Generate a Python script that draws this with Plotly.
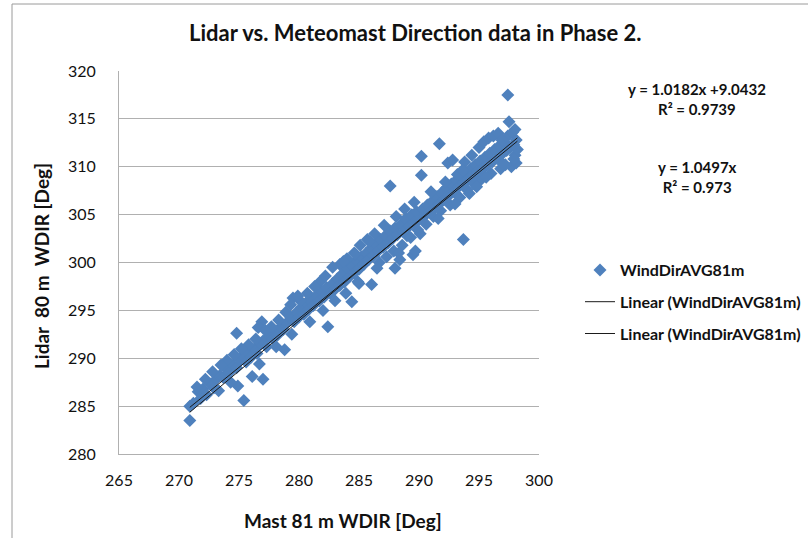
import plotly.graph_objects as go

# ---- data ----
mast_x = [
    270.9, 270.9, 271.2, 271.6, 271.8, 272.0, 272.3, 272.6, 272.9, 273.1, 273.4, 273.7, 273.9, 274.2, 274.5,
    274.8, 274.8, 274.9, 275.1, 275.4, 275.3, 275.6, 275.8, 276.0, 276.1, 276.3, 276.5, 276.8, 276.9, 276.6,
    277.0, 277.0, 277.3, 277.5, 277.8, 278.0, 278.2, 278.5, 278.8, 278.7, 279.0, 279.3, 279.5, 279.6, 279.8,
    280.0, 280.2, 280.4, 280.6, 280.8, 281.0, 281.2, 281.5, 281.75, 281.7, 281.9, 282.1, 282.4, 282.3, 282.6,
    282.8, 283.0, 283.2, 283.4, 283.6, 283.8, 284.0, 284.2, 284.4, 284.4, 284.6, 284.8, 285.0, 285.2, 285.4,
    285.6, 285.8, 286.05, 286.0, 286.2, 286.4, 286.6, 286.8, 287.0, 287.2, 287.4, 287.6, 287.6, 287.8, 288.0,
    288.1, 288.0, 288.2, 288.4, 288.5, 288.7, 288.9, 289.0, 289.2, 289.5, 289.4, 289.7, 289.6, 289.8, 290.0,
    290.2, 290.2, 290.3, 290.5, 290.7, 290.9, 291.1, 291.3, 291.5, 291.7, 291.7, 291.9, 292.1, 292.3, 292.5,
    292.7, 292.9, 293.1, 293.3, 293.5, 293.7, 293.7, 293.9, 294.1, 294.3, 294.5, 294.7, 294.9, 295.1, 295.3,
    295.5, 295.7, 295.9, 296.1, 296.3, 296.5, 296.7, 296.9, 297.1, 297.3, 297.4, 297.5, 297.4, 297.6, 297.7,
    297.8, 297.9, 298.0, 298.1, 298.1, 298.0,
    292.4, 292.8, 293.2, 293.8, 294.4, 295.0, 295.4, 295.8, 296.2, 296.6, 296.8, 297.2, 297.9, 298.2, 295.2,
    294.6, 294.0, 293.4, 292.6, 291.8, 291.2, 290.6, 289.9, 289.3, 288.6, 287.9, 287.3, 286.7, 286.3, 285.7,
    285.1, 284.6, 284.0, 283.4, 282.8, 282.2, 283.0, 283.9, 285.0, 281.3, 280.7, 280.1, 279.9, 279.3, 278.9,
    278.3, 277.7, 277.2, 276.4, 275.8, 275.2, 274.6, 274.0, 273.5, 272.8, 272.2, 271.5, 273.3, 274.3, 276.7,
    278.1, 279.4, 280.9, 282.0, 284.9, 286.5, 288.3, 290.1, 291.6, 293.0, 294.8, 296.0, 297.0,
    283.7, 284.7, 285.9, 287.1, 288.8, 289.6, 291.0, 292.2, 293.6, 294.2, 295.6, 296.9,
]
lidar_y = [
    283.5, 285.0, 285.3, 286.5, 285.8, 286.8, 286.2, 287.3, 286.9, 287.8, 288.2, 288.0, 288.9, 288.5, 289.3,
    289.0, 292.6, 287.1, 289.8, 285.6, 290.3, 289.6, 290.6, 290.1, 288.1, 291.0, 290.5, 291.5, 293.8, 293.2,
    287.8, 291.8, 291.2, 292.3, 292.0, 292.8, 292.4, 293.3, 290.9, 293.0, 293.7, 294.2, 296.3, 293.8, 294.8,
    294.3, 295.3, 294.6, 295.8, 295.1, 296.0, 295.5, 296.6, 298.0, 296.0, 297.0, 296.4, 293.3, 297.4, 296.8,
    297.8, 297.2, 298.3, 297.6, 298.8, 298.0, 299.4, 298.5, 295.9, 299.8, 298.9, 300.2, 299.3, 300.6, 299.8,
    301.0, 300.3, 297.7, 301.5, 300.7, 301.9, 301.2, 302.4, 301.6, 302.8, 302.0, 308.0, 303.3, 302.5, 299.4,
    304.8, 303.6, 302.9, 300.3, 304.0, 303.2, 304.6, 302.8, 303.8, 300.8, 305.0, 301.2, 304.2, 305.3, 304.5,
    309.1, 311.1, 305.6, 304.9, 306.0, 305.3, 306.4, 305.7, 306.9, 312.4, 306.1, 307.3, 306.6, 307.8, 307.0,
    308.2, 307.4, 308.6, 307.9, 309.0, 302.4, 308.3, 309.4, 308.7, 309.8, 309.1, 310.2, 309.5, 310.6, 309.8,
    311.0, 310.2, 311.4, 310.5, 311.8, 310.9, 312.2, 311.3, 312.6, 311.7, 317.5, 314.7, 313.2, 312.0, 310.0,
    313.6, 312.3, 311.2, 310.4, 312.8, 313.9,
    310.4, 310.7, 309.2, 310.5, 311.2, 312.0, 312.6, 313.0, 313.2, 313.5, 309.8, 310.2, 310.8, 311.8, 308.7,
    308.2, 307.6, 306.8, 306.0, 305.4, 304.8, 304.0, 303.4, 302.6, 301.8, 301.2, 300.6, 300.0, 303.0, 302.4,
    301.8, 301.0, 300.4, 299.8, 299.5, 298.6, 296.0, 296.8, 297.8, 297.5, 296.8, 296.0, 296.5, 295.6, 294.8,
    294.0, 293.3, 292.9, 292.0, 291.4, 291.0, 290.4, 289.8, 289.3, 288.6, 287.8, 287.0, 286.6, 287.5, 289.4,
    291.2, 292.5, 293.8, 295.0, 298.0, 299.4, 301.0, 303.0, 304.6, 306.1, 307.9, 309.3, 310.3,
    300.1, 300.9, 302.2, 303.9, 305.6, 306.3, 307.4, 308.4, 309.6, 307.2, 308.9, 312.8,
]

# trendline coefficients shown on the chart
fit1_slope, fit1_intercept, fit1_r2 = 1.0182, 9.0432, 0.9739
fit2_slope, fit2_r2 = 1.0497, 0.973

x_ticks = [265, 270, 275, 280, 285, 290, 295, 300]
y_ticks = [280, 285, 290, 295, 300, 305, 310, 315, 320]

series_name = "WindDirAVG81m"
title_text = "Lidar vs. Meteomast Direction data in Phase 2."
x_title = "Mast 81 m WDIR [Deg]"
y_title = "Lidar&nbsp;&nbsp;80 m&nbsp;&nbsp;WDIR [Deg]"

FONT = "Lato"
TXT = "#111111"
xmin, xmax = min(mast_x), max(mast_x)

fig = go.Figure()
fig.add_trace(go.Scatter(
    x=mast_x, y=lidar_y, mode="markers", name=series_name,
    marker=dict(symbol="diamond", size=10, color="#4F81BD", line=dict(width=0)),
    legendgroup="a",
))
fig.add_trace(go.Scatter(
    x=[xmin, xmax], y=[fit1_slope * xmin + fit1_intercept, fit1_slope * xmax + fit1_intercept],
    mode="lines", name="Linear (" + series_name + ")",
    line=dict(color="#1b1b1b", width=1), legendgroup="b",
))
fig.add_trace(go.Scatter(
    x=[xmin, xmax], y=[fit2_slope * xmin, fit2_slope * xmax],
    mode="lines", name="Linear (" + series_name + ")",
    line=dict(color="#1b1b1b", width=1), legendgroup="c",
))

L, R, T, B = 119, 808 - 539, 71, 538 - 454
W, H = 808, 538
pw, ph = W - L - R, H - T - B


def px(xp):
    return (xp - L) / pw


def py(yp):
    return (H - B - yp) / ph


grid_col = "#B0B0B0"
fig.update_layout(
    width=W, height=H,
    margin=dict(l=L, r=R, t=T, b=B, autoexpand=False),
    paper_bgcolor="white", plot_bgcolor="white",
    font=dict(family=FONT, color=TXT),
    showlegend=True,
    legend=dict(
        x=px(580), xanchor="left", y=py(253), yanchor="top",
        font=dict(family=FONT, size=16, color=TXT, weight="bold"),
        tracegroupgap=8, bgcolor="rgba(0,0,0,0)",
    ),
    xaxis=dict(
        range=[265, 300], tickvals=x_ticks, ticktext=[str(v) for v in x_ticks],
        showgrid=False, zeroline=False, showline=True, linecolor=grid_col, linewidth=1,
        ticks="", tickfont=dict(family=FONT, size=16, color=TXT),
        ticklabelstandoff=12,
    ),
    yaxis=dict(
        range=[280, 320], tickvals=y_ticks, ticktext=[str(v) for v in y_ticks],
        showgrid=True, gridcolor=grid_col, gridwidth=1, zeroline=False,
        showline=True, linecolor=grid_col, linewidth=1,
        ticks="", tickfont=dict(family=FONT, size=16, color=TXT),
        ticklabelstandoff=19,
    ),
)

eq1 = "y = %.4fx +%.4f<br>R² = %s" % (fit1_slope, fit1_intercept, fit1_r2)
eq2 = "y = %.4fx<br>R² = %s" % (fit2_slope, fit2_r2)

ann = [
    dict(text=title_text, x=px(415), y=py(33), xanchor="center", yanchor="middle",
         font=dict(family=FONT, size=22, color=TXT, weight="bold")),
    dict(text=x_title, x=px(343), y=py(520), xanchor="center", yanchor="middle",
         font=dict(family=FONT, size=19, color=TXT, weight="bold")),
    dict(text=y_title, x=px(41), y=py(266), xanchor="center", yanchor="middle",
         textangle=-90, font=dict(family=FONT, size=19, color=TXT, weight="bold")),
    dict(text=eq1, x=px(697), y=py(99), xanchor="center", yanchor="middle",
         font=dict(family=FONT, size=15, color=TXT, weight="bold")),
    dict(text=eq2, x=px(697), y=py(177), xanchor="center", yanchor="middle",
         font=dict(family=FONT, size=15, color=TXT, weight="bold")),
]
for a in ann:
    a.update(xref="paper", yref="paper", showarrow=False)
fig.update_layout(annotations=ann)

border_col = "#9a9a9a"
fig.add_shape(type="line", xref="paper", yref="paper", x0=px(12), x1=px(820), y0=py(4), y1=py(4),
              line=dict(color=border_col, width=1))
fig.add_shape(type="line", xref="paper", yref="paper", x0=px(12), x1=px(12), y0=py(4), y1=py(545),
              line=dict(color=border_col, width=1))

fig.write_html("out.html")
